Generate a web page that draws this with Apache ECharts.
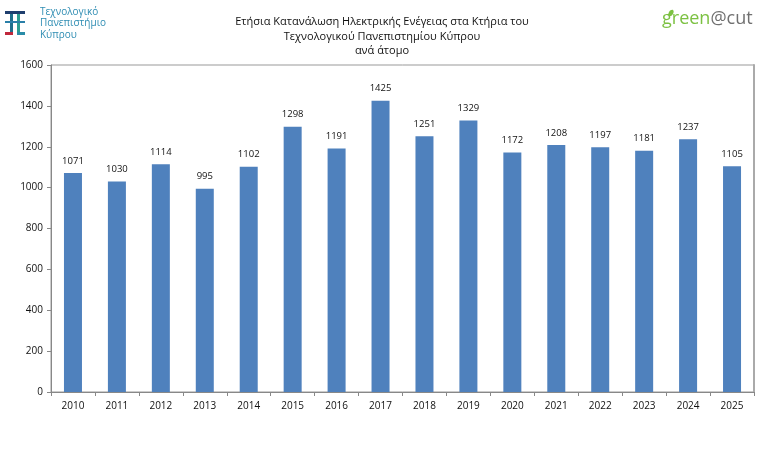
<!DOCTYPE html>
<html>
<head>
<meta charset="utf-8">
<script src="https://cdn.jsdelivr.net/npm/echarts@6/dist/echarts.min.js"></script>
<style>
  html, body { margin: 0; padding: 0; background: #fff; }
  #chart { width: 768px; height: 461px; }
</style>
</head>
<body>
<div id="chart"></div>
<script>
  // ετήσια κατανάλωση ανά άτομο
  const years = ["2010", "2011", "2012", "2013", "2014", "2015", "2016", "2017",
    "2018", "2019", "2020", "2021", "2022", "2023", "2024", "2025"];
  const consumption = [1071, 1030, 1114, 995, 1102, 1298, 1191, 1425,
    1251, 1329, 1172, 1208, 1197, 1181, 1237, 1105];
  const titleLines = [
    "Ετήσια Κατανάλωση Ηλεκτρικής Ενέγειας στα Κτήρια του",
    "Τεχνολογικού Πανεπιστημίου Κύπρου",
    "ανά άτομο"
  ];
  const logoLines = ["Τεχνολογικό", "Πανεπιστήμιο", "Κύπρου"];

  const font = "'Open Sans', 'DejaVu Sans', sans-serif";
  const myChart = echarts.init(document.getElementById("chart"));

  const option = {
    backgroundColor: "#ffffff",
    animation: false,
    textStyle: { fontFamily: font },
    title: {
      text: titleLines.join("\n"),
      left: 377,
      top: 10,
      textAlign: "center",
      textStyle: {
        fontFamily: font,
        fontSize: 11,
        fontWeight: "normal",
        color: "#111",
        lineHeight: 14.5
      }
    },
    grid: {
      left: 51,
      right: 14,
      top: 65,
      bottom: 69,
      show: true,
      borderColor: "#999",
      borderWidth: 1
    },
    xAxis: {
      type: "category",
      data: years,
      axisLine: { lineStyle: { color: "#888", width: 1 } },
      axisTick: { show: true, alignWithLabel: false, length: 4, lineStyle: { color: "#888" } },
      axisLabel: { color: "#111", fontSize: 10, margin: 9, fontFamily: font }
    },
    yAxis: [
      {
        type: "value",
        min: 0,
        max: 1600,
        interval: 200,
        axisLine: { show: true, lineStyle: { color: "#888" } },
        axisTick: { show: true, length: 4, lineStyle: { color: "#888" } },
        splitLine: { show: false },
        axisLabel: {
          color: "#111",
          fontSize: 10,
          margin: 8,
          fontFamily: font,
          formatter: (v) => String(v)
        }
      },
      {
        type: "value",
        min: 0,
        max: 1600,
        position: "right",
        axisLine: { show: true, lineStyle: { color: "#aaa", width: 2 } },
        axisTick: { show: false },
        axisLabel: { show: false },
        splitLine: { show: false }
      }
    ],
    series: [
      {
        name: "ανά άτομο",
        type: "bar",
        data: consumption,
        barWidth: 18,
        itemStyle: { color: "#4f81bd" },
        label: {
          show: true,
          position: "top",
          distance: 7,
          color: "#111",
          fontSize: 9.5,
          fontFamily: font
        }
      }
    ],
    graphic: [
      // λογότυπο ΤΕΠΑΚ
      { type: "rect", shape: { x: 5, y: 11, width: 20, height: 3 }, style: { fill: "#1f3f6e" } },
      { type: "rect", shape: { x: 10, y: 14, width: 3, height: 19 }, style: { fill: "#1f6f8b" } },
      { type: "rect", shape: { x: 17, y: 14, width: 3, height: 19 }, style: { fill: "#2a9d8f" } },
      { type: "rect", shape: { x: 5, y: 21, width: 20, height: 2 }, style: { fill: "#2a7fa8" } },
      { type: "rect", shape: { x: 5, y: 32, width: 8, height: 3 }, style: { fill: "#c0283c" } },
      { type: "rect", shape: { x: 17, y: 32, width: 8, height: 3 }, style: { fill: "#2a8ca8" } },
      {
        type: "text",
        left: 40,
        top: 6,
        style: {
          text: logoLines.join("\n"),
          fontFamily: font,
          fontSize: 10,
          lineHeight: 11.5,
          fill: "#2f8db3"
        }
      },
      // green@cut
      {
        type: "text",
        left: 662,
        top: 10,
        style: {
          text: "{g|green}{c|@cut}",
          rich: {
            g: { fontFamily: font, fontSize: 18, fill: "#7cc142", fontWeight: "normal" },
            c: { fontFamily: font, fontSize: 18, fill: "#707070", fontWeight: "normal" }
          }
        }
      },
      {
        type: "ellipse",
        shape: { cx: 671, cy: 13, rx: 2.2, ry: 3.5 },
        rotation: -0.6,
        originX: 671,
        originY: 13,
        style: { fill: "#7cc142" }
      }
    ]
  };

  myChart.setOption(option);
</script>
</body>
</html>
